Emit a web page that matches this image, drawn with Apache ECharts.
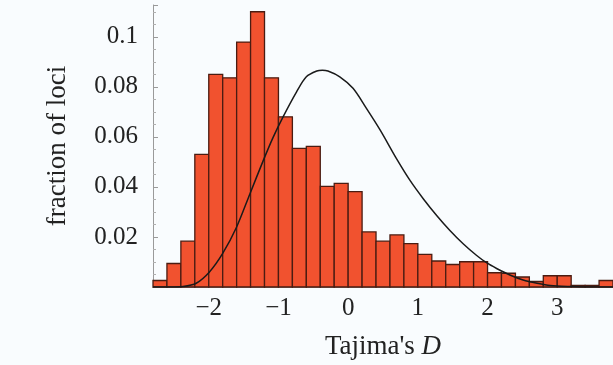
<!DOCTYPE html>
<html>
<head>
<meta charset="utf-8">
<script src="https://cdn.jsdelivr.net/npm/echarts@6/dist/echarts.min.js"></script>
<style>
html,body{margin:0;padding:0;background:#f9fcfe;}
#c{width:613px;height:365px;}
</style>
</head>
<body>
<div id="c"></div>
<script>
// Histogram bins (left edge, width 0.2) and fraction of loci
var binStart = [-2.8,-2.6,-2.4,-2.2,-2.0,-1.8,-1.6,-1.4,-1.2,-1.0,-0.8,-0.6,-0.4,-0.2,0.0,0.2,0.4,0.6,0.8,1.0,1.2,1.4,1.6,1.8,2.0,2.2,2.4,2.6,2.8,3.0,3.2,3.4,3.6];
var binValue = [0.0026,0.0094,0.0183,0.053,0.085,0.0836,0.0979,0.110,0.0836,0.068,0.0554,0.0562,0.0402,0.0414,0.0381,0.022,0.0183,0.0208,0.0173,0.013,0.0104,0.009,0.0101,0.0101,0.0057,0.0055,0.0040,0.0022,0.0045,0.0045,0.0006,0.0006,0.0026];
var binWidth = 0.2;
// Expected-distribution curve
var curveX = [-2.8,-2.55,-2.37,-2.18,-1.99,-1.80,-1.60,-1.41,-1.22,-1.08,-0.93,-0.74,-0.60,-0.45,-0.37,-0.29,-0.12,0.07,0.26,0.46,0.70,0.89,1.08,1.27,1.46,1.65,1.84,1.99,2.13,2.32,2.51,2.71,2.90,3.19,3.5,3.8];
var curveY = [0,0,0.0002,0.0015,0.006,0.0134,0.024,0.0372,0.0504,0.0596,0.0682,0.078,0.084,0.0863,0.0866,0.0863,0.084,0.0794,0.0715,0.0627,0.0510,0.0425,0.0352,0.0286,0.0226,0.0173,0.0127,0.0096,0.0074,0.0048,0.0028,0.0015,0.0006,0.0002,0,0];
var xTicks = [-2,-1,0,1,2,3];
var yTicks = [0.02,0.04,0.06,0.08,0.1];

var serif = '"Liberation Serif","DejaVu Serif","Times New Roman",serif';
var chart = echarts.init(document.getElementById('c'), null, {renderer:'canvas'});
var histData = binStart.map(function(s,i){return [s, binValue[i]];});
var curveData = curveX.map(function(x,i){return [x, curveY[i]];});

chart.setOption({
  backgroundColor:'#f9fcfe',
  animation:false,
  grid:{left:153, right:0, top:5, bottom:74.3},
  xAxis:{
    type:'value', min:-2.8, max:3.8,
    axisLine:{show:true, onZero:false, lineStyle:{color:'#9a9a9a', width:1}},
    axisTick:{show:true, inside:true, length:5, customValues:xTicks, lineStyle:{color:'#9a9a9a'}},
    axisLabel:{customValues:xTicks, margin:9, color:'#222', fontFamily:serif, fontSize:25,
      formatter:function(v){return String(v).replace('-','\u2212');}},
    splitLine:{show:false},
    name:"{a|Tajima's }{b|D}", nameLocation:'middle', nameGap:46,
    nameTextStyle:{color:'#222', fontFamily:serif, fontSize:27,
      rich:{a:{fontFamily:serif, fontSize:27, color:'#222'}, b:{fontFamily:serif, fontSize:27, fontStyle:'italic', color:'#222'}}}
  },
  yAxis:{
    type:'value', min:0, max:0.1127, interval:0.02,
    axisLine:{show:true, onZero:false, lineStyle:{color:'#9a9a9a', width:1}},
    axisTick:{show:true, inside:true, length:5, lineStyle:{color:'#9a9a9a'}},
    minorTick:{show:true, splitNumber:4, length:3, lineStyle:{color:'#b0b0b0'}},
    axisLabel:{margin:15, color:'#222', fontFamily:serif, fontSize:25,
      formatter:function(v){
        for (var i=0;i<yTicks.length;i++){ if (Math.abs(v-yTicks[i])<1e-9) return String(yTicks[i]); }
        return '';
      }},
    splitLine:{show:false},
    name:'fraction of loci', nameLocation:'middle', nameGap:82,
    nameTextStyle:{color:'#222', fontFamily:serif, fontSize:27}
  },
  series:[
    {
      type:'custom',
      data:histData,
      z:2,
      renderItem:function(params, api){
        var s = api.value(0), v = api.value(1);
        var p0 = api.coord([s, v]);
        var p1 = api.coord([s+binWidth, 0]);
        return {
          type:'rect',
          shape:{x:p0[0], y:p0[1], width:p1[0]-p0[0], height:p1[1]-p0[1]},
          style:{fill:'#f1522f', stroke:'#4a1c12', lineWidth:1.3}
        };
      }
    },
    {
      type:'line',
      data:curveData,
      smooth:0.3,
      showSymbol:false,
      z:3,
      lineStyle:{color:'#1a1a1a', width:1.5}
    }
  ]
});
</script>
</body>
</html>
